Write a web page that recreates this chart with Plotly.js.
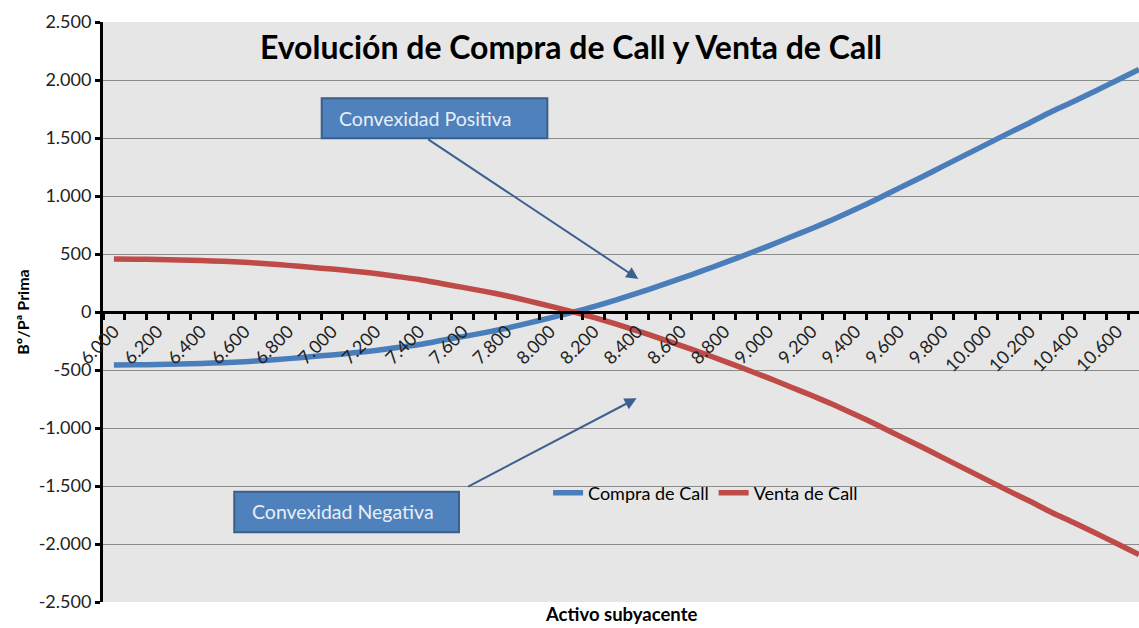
<!DOCTYPE html>
<html>
<head>
<meta charset="utf-8">
<script src="https://cdn.plot.ly/plotly-3.0.1.min.js"></script>
<style>
html, body { margin: 0; padding: 0; background: #ffffff; }
#chart { width: 1139px; height: 628px; }
</style>
</head>
<body>
<div id="chart"></div>
<script>
// Activo subyacente (categories)
const categories = [6000, 6100, 6200, 6300, 6400, 6500, 6600, 6700, 6800, 6900,
  7000, 7100, 7200, 7300, 7400, 7500, 7600, 7700, 7800, 7900,
  8000, 8100, 8200, 8300, 8400, 8500, 8600, 8700, 8800, 8900,
  9000, 9100, 9200, 9300, 9400, 9500, 9600, 9700, 9800, 9900,
  10000, 10100, 10200, 10300, 10400, 10500, 10600, 10700];

// Bº/Pª Compra de Call
const compraCall = [-456, -455, -453, -449, -444, -437, -428, -416, -402, -386,
  -370, -352, -331, -306, -280, -246, -212, -178, -140, -96,
  -50, -3, 47, 103, 163, 225, 290, 356, 425, 496,
  568, 644, 720, 800, 885, 975, 1068, 1160, 1255, 1350,
  1445, 1540, 1632, 1728, 1815, 1905, 1998, 2090];

// Bº/Pª Venta de Call
const ventaCall = [456, 455, 453, 449, 444, 437, 428, 416, 402, 386,
  370, 352, 331, 306, 280, 246, 212, 178, 140, 96,
  50, 3, -47, -103, -163, -225, -290, -356, -425, -496,
  -568, -644, -720, -800, -885, -975, -1068, -1160, -1255, -1350,
  -1445, -1540, -1632, -1728, -1815, -1905, -1998, -2090];

const xTickVals = [6000, 6200, 6400, 6600, 6800, 7000, 7200, 7400, 7600, 7800,
  8000, 8200, 8400, 8600, 8800, 9000, 9200, 9400, 9600, 9800,
  10000, 10200, 10400, 10600];
const xTickText = ["6.000", "6.200", "6.400", "6.600", "6.800", "7.000", "7.200", "7.400", "7.600", "7.800",
  "8.000", "8.200", "8.400", "8.600", "8.800", "9.000", "9.200", "9.400", "9.600", "9.800",
  "10.000", "10.200", "10.400", "10.600"];

const yTickVals = [-2500, -2000, -1500, -1000, -500, 0, 500, 1000, 1500, 2000, 2500];
const yTickText = ["-2.500", "-2.000", "-1.500", "-1.000", "-500", "0", "500", "1.000", "1.500", "2.000", "2.500"];

const FONT = "Lato, 'Open Sans', sans-serif";

const traces = [
  {
    x: categories, y: compraCall, name: "Compra de Call", type: "scatter", mode: "lines",
    line: { color: "#4a7ebb", width: 5.5, shape: "spline", smoothing: 0.6 }
  },
  {
    x: categories, y: ventaCall, name: "Venta de Call", type: "scatter", mode: "lines",
    line: { color: "#be4b48", width: 5.5, shape: "spline", smoothing: 0.6 }
  }
];

const boxFill = "#4f81bd";
const boxLine = "#3a5f8b";
const arrowColor = "#3c6090";

const layout = {
  width: 1139, height: 628,
  margin: { l: 103, r: 0, t: 22, b: 26 },
  paper_bgcolor: "#ffffff",
  plot_bgcolor: "#e6e6e6",
  font: { family: FONT, color: "#1a1a1a" },
  showlegend: true,
  title: {
    text: "Evolución de Compra de Call y Venta de Call",
    font: { family: FONT, size: 32, weight: "bold", color: "#000000" },
    x: 0.5013, xref: "container", xanchor: "center",
    y: 0.9236, yref: "container", yanchor: "middle"
  },
  xaxis: {
    range: [5950, 10700],
    anchor: "free", position: 0.5,
    showline: true, linecolor: "#000000", linewidth: 3,
    tickmode: "array", tickvals: xTickVals, ticktext: xTickText,
    ticks: "", tickangle: -45,
    tickfont: { family: FONT, size: 18, color: "#222222" },
    showgrid: false, zeroline: false,
    minor: { ticks: "outside", tickmode: "linear", tick0: 5950, dtick: 100,
             ticklen: 6, tickwidth: 3, tickcolor: "#000000", showgrid: false },
    fixedrange: true
  },
  yaxis: {
    range: [-2500, 2500],
    tickmode: "array", tickvals: yTickVals, ticktext: yTickText,
    ticks: "outside", ticklen: 5, tickwidth: 3, tickcolor: "#000000",
    showline: true, linecolor: "#000000", linewidth: 3,
    showgrid: true, gridcolor: "#8c8c8c", gridwidth: 1,
    zeroline: false,
    tickfont: { family: FONT, size: 18, color: "#222222" },
    title: { text: "Bº/Pª Prima", font: { family: FONT, size: 16, weight: "bold", color: "#000000" }, standoff: 6 },
    fixedrange: true
  },
  legend: {
    orientation: "h",
    x: 0.4296, xanchor: "left",
    y: 0.188, yanchor: "middle",
    bgcolor: "rgba(0,0,0,0)",
    font: { family: FONT, size: 18, color: "#000000" }
  },
  shapes: [
    { type: "rect", xref: "paper", yref: "paper", x0: 0.2111, x1: 0.4289, y0: 0.7995, y1: 0.8684,
      fillcolor: boxFill, line: { color: boxLine, width: 2 } },
    { type: "rect", xref: "paper", yref: "paper", x0: 0.1267, x1: 0.3436, y0: 0.1202, y1: 0.1902,
      fillcolor: boxFill, line: { color: boxLine, width: 2 } }
  ],
  annotations: [
    { text: "Convexidad Positiva", xref: "paper", yref: "paper", x: 0.2259, y: 0.834,
      xanchor: "left", yanchor: "middle", showarrow: false,
      font: { family: FONT, size: 19.5, color: "#e8eef6" } },
    { text: "Convexidad Negativa", xref: "paper", yref: "paper", x: 0.1419, y: 0.1552,
      xanchor: "left", yanchor: "middle", showarrow: false,
      font: { family: FONT, size: 19.5, color: "#e8eef6" } },
    { text: "", xref: "paper", yref: "paper", x: 0.5167, y: 0.5569,
      showarrow: true, ax: -211.6, ay: -140.7, arrowhead: 2, arrowsize: 1.2, arrowwidth: 2,
      arrowcolor: arrowColor, standoff: 0, startstandoff: 0 },
    { text: "", xref: "paper", yref: "paper", x: 0.5151, y: 0.3512,
      showarrow: true, ax: -170, ay: 89, arrowhead: 2, arrowsize: 1.2, arrowwidth: 2,
      arrowcolor: arrowColor, standoff: 0, startstandoff: 0 },
    { text: "Activo subyacente", xref: "paper", yref: "paper", x: 0.5, y: -0.0207,
      xanchor: "center", yanchor: "middle", showarrow: false,
      font: { family: FONT, size: 18.5, weight: "bold", color: "#000000" } }
  ]
};

Plotly.newPlot("chart", traces, layout, { displayModeBar: false, staticPlot: true });
</script>
</body>
</html>
